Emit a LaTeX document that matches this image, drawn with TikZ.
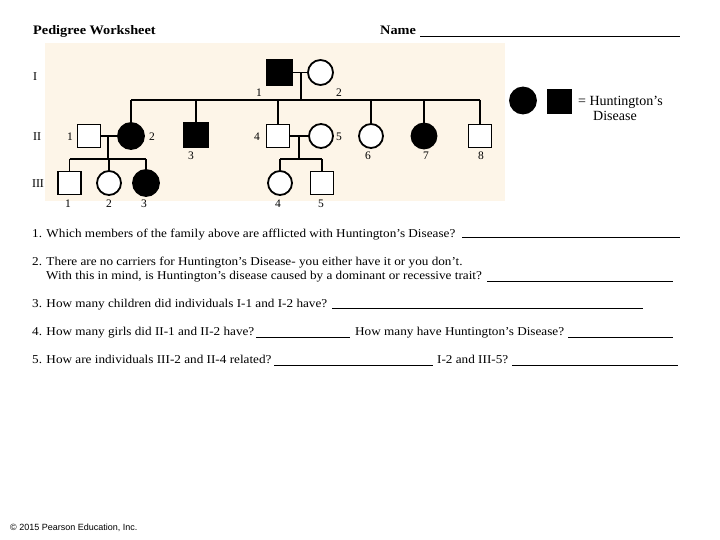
\documentclass[tikz,border=0pt]{standalone}
\usepackage{fontspec}
\setmainfont{Liberation Serif}
\newfontfamily\qfont[FakeStretch=1.1]{Liberation Serif}
\newfontfamily\cpfont{Liberation Sans}
\definecolor{bgpeach}{RGB}{253,245,232}
\begin{document}
\begin{tikzpicture}[x=1pt,y=-1pt,
  male/.style={draw,rectangle,line width=1.8pt,minimum size=23pt,inner sep=0pt,fill=white},
  female/.style={draw,circle,line width=1.8pt,minimum size=24pt,inner sep=0pt,fill=white},
  aff/.style={fill=black},
  rel/.style={line width=1.8pt},
  num/.style={font=\fontsize{11.5}{11.5}\selectfont,inner sep=0pt},
  gen/.style={font=\fontsize{12}{12}\selectfont,inner sep=0pt},
  qtext/.style={anchor=base west,inner sep=0pt,font=\qfont\fontsize{12}{14}\selectfont},
  ltext/.style={anchor=base west,inner sep=0pt,font=\fontsize{14}{16}\selectfont},
  head/.style={anchor=base west,inner sep=0pt,font=\qfont\bfseries\fontsize{13}{15}\selectfont},
  blank/.style={line width=0.8pt}]
\useasboundingbox (0,0) rectangle (720,540);
\fill[white] (0,0) rectangle (720,540);
\fill[bgpeach] (45,43) rectangle (505,201);
% header
\node[head] (title) at (33,35) {Pedigree Worksheet};
\node[head] (name) at (380,35) {Name};
\coordinate (nameA) at (420,36);
\coordinate (nameB) at (680,36);
\draw[blank] (nameA) -- (nameB);
% generation labels
\node[gen] (gI) at (35,77) {I};
\node[gen] (gII) at (37,137) {II};
\node[gen] (gIII) at (38,184) {III};
% generation I
\node[male,aff,minimum size=25pt] (I1) at (279.5,72.5) {};
\node[female,minimum size=25pt] (I2) at (320.5,72.5) {};
\draw[rel] (I1.east) -- (I2.west);
\coordinate (m1) at (301,72.5);
\coordinate (s1) at (301,100);
\draw[rel] (m1) -- (s1);
% generation II
\node[male] (II1) at (89,136) {};
\node[female,aff,minimum size=26pt] (II2) at (131,136) {};
\node[male,aff,minimum size=25pt] (II3) at (196,135) {};
\node[male] (II4) at (278,136) {};
\node[female] (II5) at (321,136) {};
\node[female] (II6) at (371,136) {};
\node[female,aff,minimum size=25pt] (II7) at (424,136) {};
\node[male] (II8) at (480,136) {};
\draw[rel] (II2|-s1) -- (II8|-s1);
\foreach \c in {II2,II3,II4,II6,II7,II8} \draw[rel] (\c|-s1) -- (\c.north);
% generation III
\node[male] (III1) at (69.5,183) {};
\node[female] (III2) at (109,183) {};
\node[female,aff,minimum size=26pt] (III3) at (146,183) {};
\node[female] (III4) at (280,183) {};
\node[male] (III5) at (322,183) {};
\draw[rel] (II1.east) -- (II2.west);
\coordinate (m2) at (108,136);
\coordinate (s2) at (108,159);
\draw[rel] (m2) -- (s2);
\draw[rel] (III1|-s2) -- (III3|-s2);
\foreach \c in {III1,III2,III3} \draw[rel] (\c|-s2) -- (\c.north);
\draw[rel] (II4.east) -- (II5.west);
\coordinate (m3) at (299,136);
\coordinate (s3) at (299,159);
\draw[rel] (m3) -- (s3);
\draw[rel] (III4|-s3) -- (III5|-s3);
\foreach \c in {III4,III5} \draw[rel] (\c|-s3) -- (\c.north);
% numbers
\node[num] (nI1) at (259,93) {1};
\node[num] (nI2) at (339,93) {2};
\node[num] (nII1) at (70,137) {1};
\node[num] (nII2) at (152,137) {2};
\node[num] (nII3) at (191,156) {3};
\node[num] (nII4) at (257,137) {4};
\node[num] (nII5) at (339,137) {5};
\node[num] (nII6) at (368,156) {6};
\node[num] (nII7) at (426,156) {7};
\node[num] (nII8) at (481,156) {8};
\node[num] (nIII1) at (68,204) {1};
\node[num] (nIII2) at (109,204) {2};
\node[num] (nIII3) at (144,204) {3};
\node[num] (nIII4) at (278,204) {4};
\node[num] (nIII5) at (321,204) {5};
% legend
\node[female,aff,minimum size=26pt] (LC) at (523,100.5) {};
\node[male,aff,minimum size=24pt] (LS) at (559.5,101.5) {};
\node[ltext] (L1) at (578,106) {= Huntington’s};
\node[ltext] (L2) at (593,121) {Disease};
% questions
\node[qtext] (q1) at (32,237) {1. Which members of the family above are afflicted with Huntington’s Disease?};
\draw[blank] (462,237) coordinate (q1a) -- (680,237) coordinate (q1b);
\node[qtext] (q2a) at (32,265) {2. There are no carriers for Huntington’s Disease- you either have it or you don’t.};
\node[qtext] (q2b) at (46,279) {With this in mind, is Huntington’s disease caused by a dominant or recessive trait?};
\draw[blank] (487,281) coordinate (q2x) -- (673,281) coordinate (q2y);
\node[qtext] (q3) at (32,307) {3. How many children did individuals I-1 and I-2 have?};
\draw[blank] (332,308) coordinate (q3a) -- (643,308) coordinate (q3b);
\node[qtext] (q4) at (32,335) {4. How many girls did II-1 and II-2 have?};
\draw[blank] (256,337) coordinate (q4a) -- (350,337) coordinate (q4b);
\node[qtext] (q4c) at (355,335) {How many have Huntington’s Disease?};
\draw[blank] (568,337) coordinate (q4d) -- (673,337) coordinate (q4e);
\node[qtext] (q5) at (32,363) {5. How are individuals III-2 and II-4 related?};
\draw[blank] (274,365) coordinate (q5a) -- (433,365) coordinate (q5b);
\node[qtext] (q5c) at (437,363) {I-2 and III-5?};
\draw[blank] (512,365) coordinate (q5d) -- (678,365) coordinate (q5e);
% copyright
\node[anchor=base west,inner sep=0pt,font=\cpfont\fontsize{9}{9}\selectfont] (copy) at (10,530) {© 2015 Pearson Education, Inc.};
\end{tikzpicture}
\end{document}
